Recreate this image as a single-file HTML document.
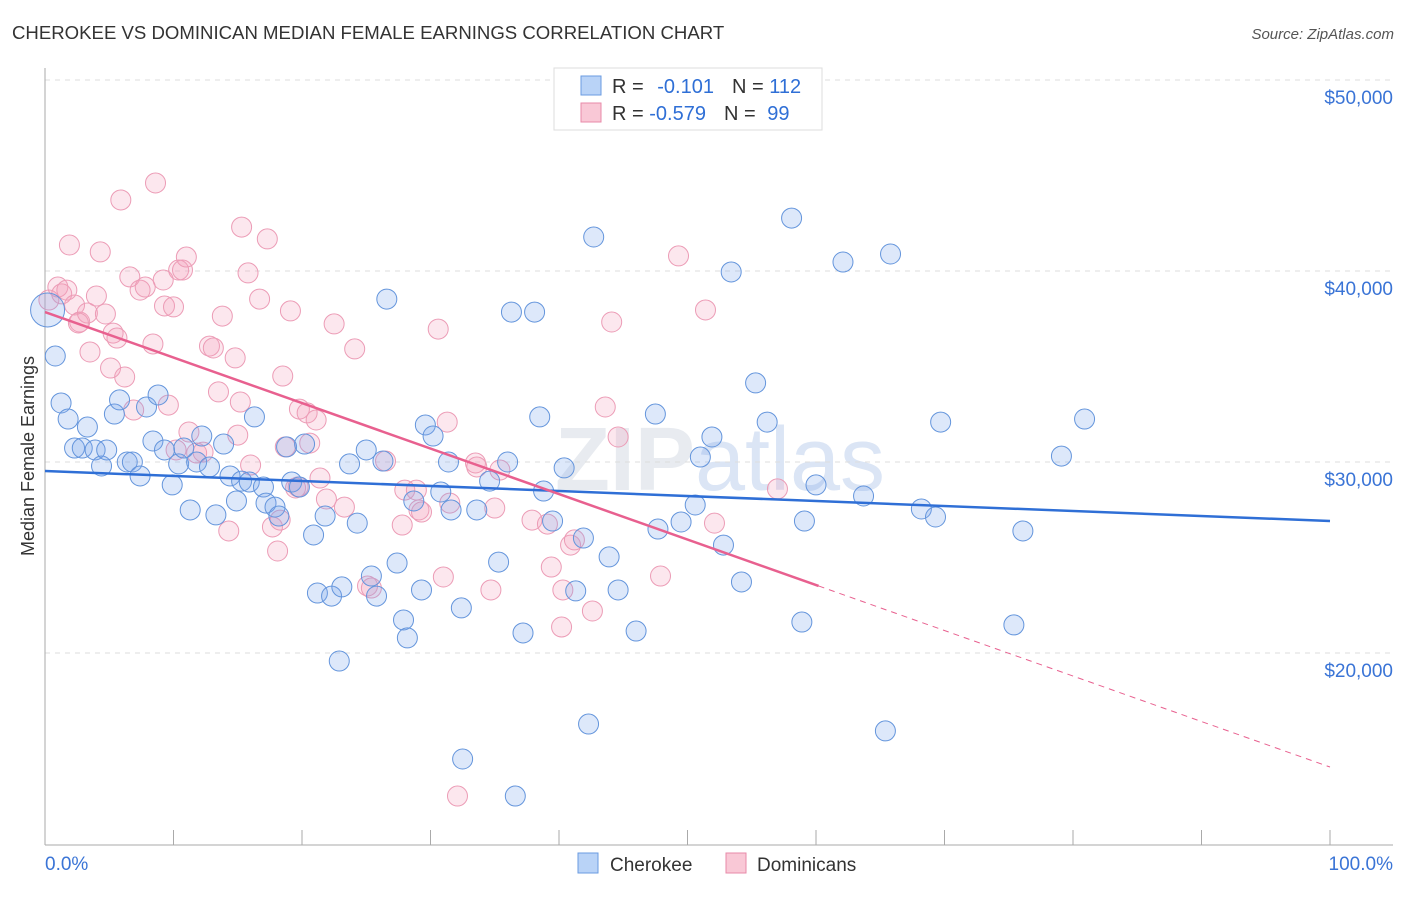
<!DOCTYPE html>
<html><head><meta charset="utf-8"><style>
body{margin:0;background:#fff;font-family:"Liberation Sans",sans-serif;}
svg text{font-family:"Liberation Sans",sans-serif;}
</style></head><body>
<svg id="chart" width="1406" height="892" viewBox="0 0 1406 892">
<text x="12" y="39" font-size="18.6" fill="#333">CHEROKEE VS DOMINICAN MEDIAN FEMALE EARNINGS CORRELATION CHART</text>
<text x="1394" y="39" font-size="15" fill="#555" font-style="italic" text-anchor="end">Source: ZipAtlas.com</text>
<text x="720" y="490" font-size="90" fill="#e8ebf0" text-anchor="middle" font-weight="bold" font-family="Liberation Serif">ZIP<tspan fill="#dbe5f5" font-family="Liberation Sans" font-weight="normal">atlas</tspan></text>
<g id="grid"></g>
<g id="axes"></g>
<text transform="translate(34,456) rotate(-90)" font-size="18" fill="#333" text-anchor="middle">Median Female Earnings</text>
<g id="pts"></g>
<g id="trends"></g>
<g>
<rect x="554" y="68" width="268" height="62" fill="#fff" stroke="#ddd"/>
<rect x="581" y="76" width="20" height="19" fill="#b9d3f7" stroke="#6a9be0"/>
<text x="612" y="93" font-size="20" fill="#333">R = <tspan fill="#2f6fd6" dx="8">-0.101</tspan><tspan fill="#333" dx="18">N = </tspan><tspan fill="#2f6fd6">112</tspan></text>
<rect x="581" y="103" width="20" height="19" fill="#f9c8d6" stroke="#e88aa8"/>
<text x="612" y="120" font-size="20" fill="#333">R = <tspan fill="#2f6fd6">-0.579</tspan><tspan fill="#333" dx="18">N = </tspan><tspan fill="#2f6fd6" dx="6">99</tspan></text>
</g>
<g>
<rect x="578" y="853" width="20" height="20" fill="#b9d3f7" stroke="#6a9be0"/>
<text x="610" y="871" font-size="19" fill="#333">Cherokee</text>
<rect x="726" y="853" width="20" height="20" fill="#f9c8d6" stroke="#e88aa8"/>
<text x="757" y="871" font-size="19" fill="#333">Dominicans</text>
</g>
</svg>
<script>
const yTicks=[20000,30000,40000,50000];
const yTickLabels=["$20,000","$30,000","$40,000","$50,000"];
const xTickLabels=["0.0%","100.0%"];
const blueX=[0.2,0.8,1.25,1.8,2.3,2.9,3.3,3.9,4.4,4.8,5.4,5.8,6.4,6.8,7.4,7.9,8.4,8.8,9.3,9.9,10.4,10.8,11.3,11.8,12.2,12.8,13.3,13.9,14.4,14.9,15.3,15.9,16.3,17.0,17.2,17.9,18.2,18.8,19.2,19.8,20.2,20.9,21.2,21.8,22.3,22.9,23.1,23.7,24.3,25.0,25.4,25.8,26.6,26.3,27.4,27.9,28.2,28.7,29.3,29.6,30.2,30.8,31.4,31.6,32.4,32.5,33.6,34.6,35.3,36.0,36.3,36.6,37.2,38.1,38.5,38.8,39.5,40.4,41.3,41.9,42.3,42.7,43.9,44.6,46.0,47.5,47.7,49.5,50.6,51.0,51.9,52.8,53.4,54.2,55.3,56.2,58.1,58.9,59.1,60.0,62.1,63.7,65.4,65.8,68.2,69.3,69.7,75.4,76.1,79.1,80.9];
const blueY=[37.96,35.55,33.09,32.25,30.73,30.73,31.83,30.63,29.79,30.63,32.51,33.25,30.0,30.0,29.27,32.88,31.1,33.51,30.63,28.8,29.9,30.73,27.49,30.0,31.36,29.74,27.23,30.94,29.27,27.96,29.0,28.95,32.36,28.69,27.85,27.64,27.17,30.79,28.95,28.69,30.94,26.18,23.14,27.17,22.98,19.58,23.46,29.9,26.8,30.63,24.03,22.98,38.53,30.05,24.71,21.73,20.79,27.96,23.3,31.94,31.36,28.43,30.0,27.49,22.36,14.45,27.49,29.0,24.76,30.0,37.85,12.51,21.05,37.85,32.36,28.48,26.91,29.69,23.25,26.02,16.28,41.78,25.03,23.3,21.15,32.51,26.49,26.86,27.75,30.26,31.31,25.65,39.95,23.72,34.14,32.09,42.77,21.62,26.91,28.8,40.47,28.22,15.92,40.89,27.54,27.12,32.09,21.47,26.39,30.31,32.25];
const pinkX=[0.3,1.0,1.3,1.7,2.3,2.7,3.3,4.0,4.7,5.3,5.6,3.5,2.6,1.9,4.3,5.1,6.2,6.9,6.6,7.4,7.8,5.9,8.6,9.2,9.3,10.0,10.4,10.7,11.0,8.4,9.6,10.2,11.2,11.8,12.3,12.8,13.1,13.5,13.8,14.3,14.8,15.0,15.2,15.3,15.8,16.0,16.7,17.3,17.7,18.1,18.5,18.3,19.1,18.7,19.5,19.8,20.4,19.7,20.6,21.1,21.4,21.9,22.5,23.3,24.1,25.1,25.4,26.5,27.8,28.0,28.9,29.1,29.3,30.6,31.0,31.3,31.5,32.1,33.5,33.6,34.7,35.0,35.4,37.9,39.1,39.4,40.2,40.9,41.2,40.3,42.6,43.6,44.1,44.6,47.9,49.3,51.4,52.1,57.0];
const pinkY=[38.48,39.16,38.8,39.0,38.22,37.33,37.8,38.69,37.75,36.75,36.49,35.76,37.28,41.36,41.0,34.92,34.45,32.72,39.69,39.0,39.16,43.72,44.61,39.53,38.17,38.12,40.05,40.05,40.73,36.18,32.98,30.63,31.57,30.47,30.52,36.07,35.97,33.67,37.64,26.39,35.45,31.41,33.14,42.3,39.9,29.84,38.53,41.68,26.6,25.34,34.5,26.96,37.91,30.79,28.64,32.77,32.57,28.7,30.99,32.2,29.16,28.06,37.23,27.64,35.92,23.51,23.4,30.05,26.7,28.53,28.53,27.49,27.38,36.96,23.98,32.09,27.85,12.51,29.95,29.74,23.3,27.59,29.58,26.96,26.75,24.5,21.36,25.65,25.92,23.3,22.2,32.88,37.33,31.31,24.03,40.79,37.96,26.8,28.59];
const blueTrend=[29.53,26.91];
const pinkTrend=[37.85,14.03];
const pinkSolidEnd=[60.2];
const NS='http://www.w3.org/2000/svg';
const X0=45,X1=1330,Y50=80,PX10K=191;
function sx(p){return X0+(X1-X0)*p/100;}
function sy(k){return Y50+(50-k)*PX10K/10;}
function mk(tag,attrs,parent){const e=document.createElementNS(NS,tag);for(const k in attrs)e.setAttribute(k,attrs[k]);parent.appendChild(e);return e;}
const grid=document.getElementById('grid'),axes=document.getElementById('axes'),pts=document.getElementById('pts'),tr=document.getElementById('trends');
yTicks.forEach((v,i)=>{
 const y=sy(v/1000);
 const l=mk('line',{x1:45,x2:1393,y1:y,y2:y,stroke:'#ddd','stroke-dasharray':'5,5'},grid);
 
 
 const t=mk('text',{x:1393,y:y+24,'font-size':19,fill:'#3a74d6','text-anchor':'end'},axes);
 t.textContent=yTickLabels[i];
 
 
});
let a=mk('line',{x1:45,x2:45,y1:68,y2:845,stroke:'#aaa'},axes);


a=mk('line',{x1:45,x2:1393,y1:845,y2:845,stroke:'#aaa'},axes);


for(let i=1;i<=10;i++){
 const x=sx(i*10);
 const t=mk('line',{x1:x,x2:x,y1:830,y2:845,stroke:'#aaa'},axes);
 
 
}
let xl=mk('text',{x:45,y:870,'font-size':19,fill:'#3a74d6'},axes);xl.textContent=xTickLabels[0];


xl=mk('text',{x:1393,y:870,'font-size':19,fill:'#3a74d6','text-anchor':'end'},axes);xl.textContent=xTickLabels[1];


pinkX.forEach((x,i)=>{
 const c=mk('circle',{cx:sx(x),cy:sy(pinkY[i]),r:10,fill:'rgba(244,160,188,0.25)',stroke:'#ec9cb6','stroke-width':1},pts);
 
 
});
blueX.forEach((x,i)=>{
 const c=mk('circle',{cx:sx(x),cy:sy(blueY[i]),r:i===0?17:10,fill:'rgba(120,165,235,0.25)',stroke:'#6495dc','stroke-width':1},pts);
 
 
});
let ln=mk('line',{x1:sx(0),y1:sy(blueTrend[0]),x2:sx(100),y2:sy(blueTrend[1]),stroke:'#2f6fd6','stroke-width':2.5},tr);


const pm=pinkTrend[0]+(pinkTrend[1]-pinkTrend[0])*pinkSolidEnd[0]/100;
ln=mk('line',{x1:sx(0),y1:sy(pinkTrend[0]),x2:sx(pinkSolidEnd[0]),y2:sy(pm),stroke:'#e8608f','stroke-width':2.5},tr);


ln=mk('line',{x1:sx(pinkSolidEnd[0]),y1:sy(pm),x2:sx(100),y2:sy(pinkTrend[1]),stroke:'#e8608f','stroke-width':1,'stroke-dasharray':'6,5'},tr);


</script>
</body></html>
